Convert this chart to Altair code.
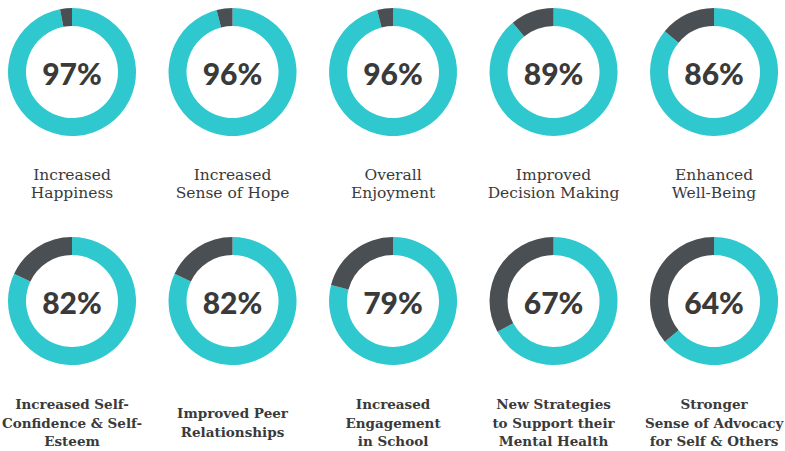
import altair as alt
import pandas as pd

labels = [
    "Increased\nHappiness",
    "Increased\nSense of Hope",
    "Overall\nEnjoyment",
    "Improved\nDecision Making",
    "Enhanced\nWell-Being",
    "Increased Self-\nConfidence & Self-\nEsteem",
    "Improved Peer\nRelationships",
    "Increased\nEngagement\nin School",
    "New Strategies\nto Support their\nMental Health",
    "Stronger\nSense of Advocacy\nfor Self & Others",
]
values = [97, 96, 96, 89, 86, 82, 82, 79, 67, 64]

TEAL = "#2FC8CE"
GRAY = "#4A4F53"

items = pd.DataFrame({
    "label": labels,
    "value": values,
    "col": [i % 5 for i in range(len(values))],
    "row": [i // 5 for i in range(len(values))],
})
items["pct"] = items["value"].astype(str) + "%"
items["nlines"] = items["label"].str.count("\n") + 1

segs = []
for _, r in items.iterrows():
    segs.append({"col": r["col"], "row": r["row"], "start": 0, "end": r["value"], "part": "yes"})
    segs.append({"col": r["col"], "row": r["row"], "start": r["value"], "end": 100, "part": "no"})
segs = pd.DataFrame(segs)

xs = alt.Scale(domain=[-0.4486, 4.442])
ys = alt.Scale(domain=[-0.3144, 1.655], reverse=True)
X = alt.X("col:Q", scale=xs, axis=None)
Y = alt.Y("row:Q", scale=ys, axis=None)

arcs = alt.Chart(segs).mark_arc(innerRadius=46, outerRadius=64).encode(
    x=X, y=Y,
    theta=alt.Theta("start:Q", scale=alt.Scale(domain=[0, 100])),
    theta2="end:Q",
    color=alt.Color("part:N", scale=alt.Scale(domain=["yes", "no"], range=[TEAL, GRAY]), legend=None),
)

pct = alt.Chart(items).mark_text(
    font="Lato", fontWeight=900, fontSize=30, color="#3A3A3A",
    baseline="alphabetic", align="center", dy=13,
).encode(x=X, y=Y, text="pct:N")


def label_layer(cond, dy, weight, size):
    return alt.Chart(items).transform_filter(cond).mark_text(
        font="DejaVu Serif", fontSize=size, fontWeight=weight, color="#3A3A3A",
        lineBreak="\n", lineHeight=18.5, baseline="middle", align="center", dy=dy,
    ).encode(x=X, y=Y, text="label:N")


lab1 = label_layer("datum.row == 0", 103, "normal", 15.5)
lab2 = label_layer("datum.row == 1 && datum.nlines == 3", 104, "bold", 13.5)
lab3 = label_layer("datum.row == 1 && datum.nlines == 2", 113, "bold", 13.5)

chart = alt.layer(arcs, pct, lab1, lab2, lab3).properties(
    width=785, height=451,
    autosize=alt.AutoSizeParams(type="none"),
    padding=0,
    background="white",
).configure_view(stroke=None)

chart.save("out.html", embed_options={"renderer": "svg", "actions": False})
